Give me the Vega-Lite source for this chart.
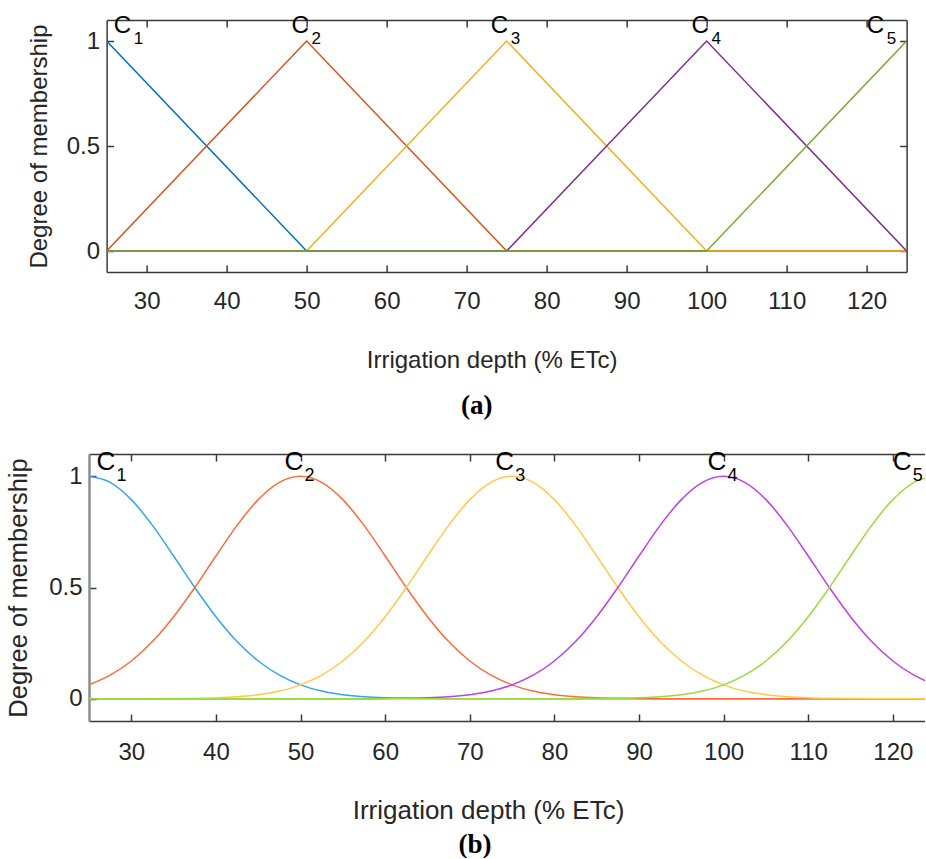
{
  "$schema": "https://vega.github.io/schema/vega-lite/v6.json",
  "padding": {"left": 5, "top": 14, "right": 0, "bottom": 0},
  "background": "white",
  "center": true,
  "spacing": 30,
  "resolve": {"scale": {"color": "independent"}},
  "datasets": {
    "tri": [
      {"mf": "C1", "x": 25, "y": 1}, {"mf": "C1", "x": 50, "y": 0}, {"mf": "C1", "x": 125, "y": 0},
      {"mf": "C2", "x": 25, "y": 0}, {"mf": "C2", "x": 50, "y": 1}, {"mf": "C2", "x": 75, "y": 0}, {"mf": "C2", "x": 125, "y": 0},
      {"mf": "C3", "x": 25, "y": 0}, {"mf": "C3", "x": 50, "y": 0}, {"mf": "C3", "x": 75, "y": 1}, {"mf": "C3", "x": 100, "y": 0}, {"mf": "C3", "x": 125, "y": 0},
      {"mf": "C4", "x": 25, "y": 0}, {"mf": "C4", "x": 75, "y": 0}, {"mf": "C4", "x": 100, "y": 1}, {"mf": "C4", "x": 125, "y": 0},
      {"mf": "C5", "x": 25, "y": 0}, {"mf": "C5", "x": 100, "y": 0}, {"mf": "C5", "x": 125, "y": 1}
    ],
    "gauss": [
      {"mf": "C1", "x": 25, "y": 1}, {"mf": "C1", "x": 27.5, "y": 0.9727}, {"mf": "C1", "x": 30, "y": 0.895}, {"mf": "C1", "x": 32.5, "y": 0.7792}, {"mf": "C1", "x": 35, "y": 0.6417}, {"mf": "C1", "x": 37.5, "y": 0.5}, {"mf": "C1", "x": 40, "y": 0.3686}, {"mf": "C1", "x": 42.5, "y": 0.257}, {"mf": "C1", "x": 45, "y": 0.1696}, {"mf": "C1", "x": 47.5, "y": 0.1058}, {"mf": "C1", "x": 50, "y": 0.0625}, {"mf": "C1", "x": 52.5, "y": 0.035}, {"mf": "C1", "x": 55, "y": 0.0185}, {"mf": "C1", "x": 57.5, "y": 0.0092}, {"mf": "C1", "x": 60, "y": 0.0044}, {"mf": "C1", "x": 62.5, "y": 0.002}, {"mf": "C1", "x": 65, "y": 0.0008}, {"mf": "C1", "x": 67.5, "y": 0.0003}, {"mf": "C1", "x": 125, "y": 0},
      {"mf": "C2", "x": 25, "y": 0.0625}, {"mf": "C2", "x": 27.5, "y": 0.1058}, {"mf": "C2", "x": 30, "y": 0.1696}, {"mf": "C2", "x": 32.5, "y": 0.257}, {"mf": "C2", "x": 35, "y": 0.3686}, {"mf": "C2", "x": 37.5, "y": 0.5}, {"mf": "C2", "x": 40, "y": 0.6417}, {"mf": "C2", "x": 42.5, "y": 0.7792}, {"mf": "C2", "x": 45, "y": 0.895}, {"mf": "C2", "x": 47.5, "y": 0.9727}, {"mf": "C2", "x": 50, "y": 1}, {"mf": "C2", "x": 52.5, "y": 0.9727}, {"mf": "C2", "x": 55, "y": 0.895}, {"mf": "C2", "x": 57.5, "y": 0.7792}, {"mf": "C2", "x": 60, "y": 0.6417}, {"mf": "C2", "x": 62.5, "y": 0.5}, {"mf": "C2", "x": 65, "y": 0.3686}, {"mf": "C2", "x": 67.5, "y": 0.257}, {"mf": "C2", "x": 70, "y": 0.1696}, {"mf": "C2", "x": 72.5, "y": 0.1058}, {"mf": "C2", "x": 75, "y": 0.0625}, {"mf": "C2", "x": 77.5, "y": 0.035}, {"mf": "C2", "x": 80, "y": 0.0185}, {"mf": "C2", "x": 82.5, "y": 0.0092}, {"mf": "C2", "x": 85, "y": 0.0044}, {"mf": "C2", "x": 87.5, "y": 0.002}, {"mf": "C2", "x": 90, "y": 0.0008}, {"mf": "C2", "x": 92.5, "y": 0.0003}, {"mf": "C2", "x": 125, "y": 0},
      {"mf": "C3", "x": 25, "y": 0}, {"mf": "C3", "x": 32.5, "y": 0.0003}, {"mf": "C3", "x": 35, "y": 0.0008}, {"mf": "C3", "x": 37.5, "y": 0.002}, {"mf": "C3", "x": 40, "y": 0.0044}, {"mf": "C3", "x": 42.5, "y": 0.0092}, {"mf": "C3", "x": 45, "y": 0.0185}, {"mf": "C3", "x": 47.5, "y": 0.035}, {"mf": "C3", "x": 50, "y": 0.0625}, {"mf": "C3", "x": 52.5, "y": 0.1058}, {"mf": "C3", "x": 55, "y": 0.1696}, {"mf": "C3", "x": 57.5, "y": 0.257}, {"mf": "C3", "x": 60, "y": 0.3686}, {"mf": "C3", "x": 62.5, "y": 0.5}, {"mf": "C3", "x": 65, "y": 0.6417}, {"mf": "C3", "x": 67.5, "y": 0.7792}, {"mf": "C3", "x": 70, "y": 0.895}, {"mf": "C3", "x": 72.5, "y": 0.9727}, {"mf": "C3", "x": 75, "y": 1}, {"mf": "C3", "x": 77.5, "y": 0.9727}, {"mf": "C3", "x": 80, "y": 0.895}, {"mf": "C3", "x": 82.5, "y": 0.7792}, {"mf": "C3", "x": 85, "y": 0.6417}, {"mf": "C3", "x": 87.5, "y": 0.5}, {"mf": "C3", "x": 90, "y": 0.3686}, {"mf": "C3", "x": 92.5, "y": 0.257}, {"mf": "C3", "x": 95, "y": 0.1696}, {"mf": "C3", "x": 97.5, "y": 0.1058}, {"mf": "C3", "x": 100, "y": 0.0625}, {"mf": "C3", "x": 102.5, "y": 0.035}, {"mf": "C3", "x": 105, "y": 0.0185}, {"mf": "C3", "x": 107.5, "y": 0.0092}, {"mf": "C3", "x": 110, "y": 0.0044}, {"mf": "C3", "x": 112.5, "y": 0.002}, {"mf": "C3", "x": 115, "y": 0.0008}, {"mf": "C3", "x": 117.5, "y": 0.0003}, {"mf": "C3", "x": 125, "y": 0},
      {"mf": "C4", "x": 25, "y": 0}, {"mf": "C4", "x": 57.5, "y": 0.0003}, {"mf": "C4", "x": 60, "y": 0.0008}, {"mf": "C4", "x": 62.5, "y": 0.002}, {"mf": "C4", "x": 65, "y": 0.0044}, {"mf": "C4", "x": 67.5, "y": 0.0092}, {"mf": "C4", "x": 70, "y": 0.0185}, {"mf": "C4", "x": 72.5, "y": 0.035}, {"mf": "C4", "x": 75, "y": 0.0625}, {"mf": "C4", "x": 77.5, "y": 0.1058}, {"mf": "C4", "x": 80, "y": 0.1696}, {"mf": "C4", "x": 82.5, "y": 0.257}, {"mf": "C4", "x": 85, "y": 0.3686}, {"mf": "C4", "x": 87.5, "y": 0.5}, {"mf": "C4", "x": 90, "y": 0.6417}, {"mf": "C4", "x": 92.5, "y": 0.7792}, {"mf": "C4", "x": 95, "y": 0.895}, {"mf": "C4", "x": 97.5, "y": 0.9727}, {"mf": "C4", "x": 100, "y": 1}, {"mf": "C4", "x": 102.5, "y": 0.9727}, {"mf": "C4", "x": 105, "y": 0.895}, {"mf": "C4", "x": 107.5, "y": 0.7792}, {"mf": "C4", "x": 110, "y": 0.6417}, {"mf": "C4", "x": 112.5, "y": 0.5}, {"mf": "C4", "x": 115, "y": 0.3686}, {"mf": "C4", "x": 117.5, "y": 0.257}, {"mf": "C4", "x": 120, "y": 0.1696}, {"mf": "C4", "x": 122.5, "y": 0.1058}, {"mf": "C4", "x": 125, "y": 0.0625},
      {"mf": "C5", "x": 25, "y": 0}, {"mf": "C5", "x": 82.5, "y": 0.0003}, {"mf": "C5", "x": 85, "y": 0.0008}, {"mf": "C5", "x": 87.5, "y": 0.002}, {"mf": "C5", "x": 90, "y": 0.0044}, {"mf": "C5", "x": 92.5, "y": 0.0092}, {"mf": "C5", "x": 95, "y": 0.0185}, {"mf": "C5", "x": 97.5, "y": 0.035}, {"mf": "C5", "x": 100, "y": 0.0625}, {"mf": "C5", "x": 102.5, "y": 0.1058}, {"mf": "C5", "x": 105, "y": 0.1696}, {"mf": "C5", "x": 107.5, "y": 0.257}, {"mf": "C5", "x": 110, "y": 0.3686}, {"mf": "C5", "x": 112.5, "y": 0.5}, {"mf": "C5", "x": 115, "y": 0.6417}, {"mf": "C5", "x": 117.5, "y": 0.7792}, {"mf": "C5", "x": 120, "y": 0.895}, {"mf": "C5", "x": 122.5, "y": 0.9727}, {"mf": "C5", "x": 125, "y": 1}
    ],
    "lab": [
      {"mf": "C1", "lx": 25.9, "ly": 1, "sub": "1"},
      {"mf": "C2", "lx": 48.1, "ly": 1, "sub": "2"},
      {"mf": "C3", "lx": 73, "ly": 1, "sub": "3"},
      {"mf": "C4", "lx": 98.1, "ly": 1, "sub": "4"},
      {"mf": "C5", "lx": 120, "ly": 1, "sub": "5"}
    ]
  },
  "vconcat": [
    {
      "width": 800,
      "height": 252,
      "title": {"text": "(a)", "orient": "bottom", "frame": "group", "anchor": "middle", "dx": -30, "offset": 21, "font": "Liberation Serif", "fontWeight": "bold", "fontSize": 27, "color": "#000000"},
      "layer": [
        {
          "data": {"name": "tri"},
          "mark": {"type": "line", "strokeWidth": 1.5, "clip": true},
          "encoding": {
            "x": {"field": "x", "type": "quantitative", "scale": {"domain": [25, 125], "nice": false, "zero": false},
                  "axis": {"orient": "bottom", "values": [30, 40, 50, 60, 70, 80, 90, 100, 110, 120], "tickSize": -7, "labelPadding": 24, "labelFlush": false, "labelOverlap": false, "title": "Irrigation depth (% ETc)", "titleX": 385, "titleY": 95, "titleAlign": "center", "titleBaseline": "alphabetic"}},
            "y": {"field": "y", "type": "quantitative", "scale": {"domain": [-0.1, 1.1], "nice": false, "zero": false},
                  "axis": {"orient": "left", "values": [0, 0.5, 1], "format": "~g", "tickSize": -7, "labelPadding": 14, "labelOverlap": false, "labelFlush": false, "title": "Degree of membership", "titleX": -60, "titleBaseline": "alphabetic"}},
            "color": {"field": "mf", "type": "nominal", "legend": null,
                      "scale": {"domain": ["C1", "C2", "C3", "C4", "C5"], "range": ["#0072BD", "#D95319", "#EDB120", "#7E2F8E", "#77AC30"]}}
          }
        },
        {
          "data": {"name": "lab"},
          "mark": {"type": "text", "align": "left", "baseline": "alphabetic", "dy": -8, "font": "Liberation Sans", "fontSize": 24, "color": "#000000"},
          "encoding": {
            "x": {"field": "lx", "type": "quantitative", "scale": {"domain": [25, 125], "nice": false, "zero": false},
                  "axis": {"orient": "top", "values": [30, 40, 50, 60, 70, 80, 90, 100, 110, 120], "tickSize": -7, "labels": false, "title": null}},
            "y": {"field": "ly", "type": "quantitative", "scale": {"domain": [-0.1, 1.1], "nice": false, "zero": false},
                  "axis": {"orient": "right", "values": [0, 0.5, 1], "tickSize": -7, "labels": false, "title": null}},
            "text": {"value": "C"}
          }
        },
        {
          "data": {"name": "lab"},
          "mark": {"type": "text", "align": "left", "baseline": "alphabetic", "dx": 20, "dy": 3, "font": "Liberation Sans", "fontSize": 17, "color": "#000000"},
          "encoding": {
            "x": {"field": "lx", "type": "quantitative", "axis": null},
            "y": {"field": "ly", "type": "quantitative", "axis": null},
            "text": {"field": "sub"}
          }
        }
      ],
      "resolve": {"axis": {"x": "independent", "y": "independent"}}
    },
    {
      "width": 836,
      "height": 267,
      "title": {"text": "(b)", "orient": "bottom", "frame": "group", "anchor": "middle", "dx": -32, "offset": 9, "font": "Liberation Serif", "fontWeight": "bold", "fontSize": 27, "color": "#000000"},
      "layer": [
        {
          "data": {"name": "gauss"},
          "mark": {"type": "line", "strokeWidth": 1.5, "clip": true, "interpolate": "monotone"},
          "encoding": {
            "x": {"field": "x", "type": "quantitative", "scale": {"domain": [25, 123.8], "nice": false, "zero": false},
                  "axis": {"orient": "bottom", "values": [30, 40, 50, 60, 70, 80, 90, 100, 110, 120], "tickSize": -7, "labelPadding": 26, "labelFlush": false, "labelOverlap": false, "title": "Irrigation depth (% ETc)", "titleFontSize": 26, "titleX": 399, "titleY": 97, "titleAlign": "center", "titleBaseline": "alphabetic"}},
            "y": {"field": "y", "type": "quantitative", "scale": {"domain": [-0.1, 1.1], "nice": false, "zero": false},
                  "axis": {"orient": "left", "values": [0, 0.5, 1], "format": "~g", "tickSize": -7, "labelPadding": 14, "labelOverlap": false, "labelFlush": false, "domainColor": "#8C8C8C", "domainWidth": 2.5, "title": "Degree of membership", "titleFontSize": 25.5, "titleX": -63, "titleBaseline": "alphabetic"}},
            "color": {"field": "mf", "type": "nominal", "legend": null,
                      "scale": {"domain": ["C1", "C2", "C3", "C4", "C5"], "range": ["#36A3EE", "#FF6A3A", "#FFC94A", "#BF40E6", "#99DD3A"]}}
          }
        },
        {
          "data": {"name": "lab"},
          "mark": {"type": "text", "align": "left", "baseline": "alphabetic", "dy": -6, "font": "Liberation Sans", "fontSize": 26, "color": "#000000"},
          "encoding": {
            "x": {"field": "lx", "type": "quantitative", "scale": {"domain": [25, 123.8], "nice": false, "zero": false},
                  "axis": {"orient": "top", "values": [30, 40, 50, 60, 70, 80, 90, 100, 110, 120], "tickSize": -7, "labels": false, "title": null}},
            "y": {"field": "ly", "type": "quantitative", "scale": {"domain": [-0.1, 1.1], "nice": false, "zero": false}, "axis": null},
            "text": {"value": "C"}
          }
        },
        {
          "data": {"name": "lab"},
          "mark": {"type": "text", "align": "left", "baseline": "alphabetic", "dx": 20, "dy": 5, "font": "Liberation Sans", "fontSize": 18, "color": "#000000"},
          "encoding": {
            "x": {"field": "lx", "type": "quantitative", "axis": null},
            "y": {"field": "ly", "type": "quantitative", "axis": null},
            "text": {"field": "sub"}
          }
        }
      ],
      "resolve": {"axis": {"x": "independent", "y": "independent"}}
    }
  ],
  "config": {
    "view": {"stroke": null},
    "axis": {
      "grid": false,
      "zindex": 1,
      "labelFont": "Liberation Sans",
      "titleFont": "Liberation Sans",
      "labelFontSize": 24,
      "titleFontSize": 24,
      "titleFontWeight": "normal",
      "labelColor": "#262626",
      "titleColor": "#262626",
      "domainColor": "#3A3A3A",
      "tickColor": "#3A3A3A",
      "domainWidth": 1.5,
      "tickWidth": 1.5
    }
  }
}
